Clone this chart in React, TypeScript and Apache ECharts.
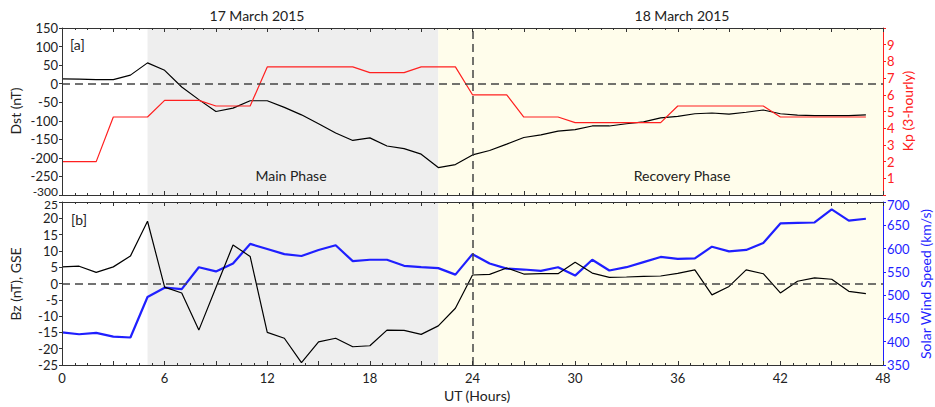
import React, { useEffect, useRef } from "react";
import * as echarts from "echarts";

const hours = [0,1,2,3,4,5,6,7,8,9,10,11,12,13,14,15,16,17,18,19,20,21,22,23,24,25,26,27,28,29,30,31,32,33,34,35,36,37,38,39,40,41,42,43,44,45,46,47];
const dst = [13,12,11,11,23,56,36,-9,-43,-75,-66,-46,-46,-64,-84,-108,-133,-153,-146,-168,-175,-190,-226,-218,-192,-180,-163,-145,-138,-128,-124,-114,-114,-108,-103,-92,-88,-81,-79,-82,-77,-71,-81,-85,-86,-86,-86,-84];
const kp = [2,2,2,4.67,4.67,4.67,5.67,5.67,5.67,5.33,5.33,5.33,7.67,7.67,7.67,7.67,7.67,7.67,7.33,7.33,7.33,7.67,7.67,7.67,6,6,6,4.67,4.67,4.67,4.33,4.33,4.33,4.33,4.33,4.33,5.33,5.33,5.33,5.33,5.33,5.33,4.67,4.67,4.67,4.67,4.67,4.67];
const bz = [5.1,5.3,3.4,5.1,8.4,19.1,-1.1,-2.9,-14.3,-1.2,11.8,8.3,-15,-16.8,-24.3,-17.9,-16.8,-19.4,-19.1,-14.3,-14.4,-15.6,-13,-7.6,2.6,2.8,4.75,2.9,3.0,3.0,6.5,3.2,1.9,2.0,2.2,2.3,3.1,4.2,-3.5,-0.9,4.2,3.0,-2.9,0.7,1.7,1.3,-2.4,-3.1];
const speed = [420,416,419,411,409,496,516,513,560,551,568,610,599,588,584,597,607,573,576,576,563,560,558,544,588,568,557,555,552,560,542,576,553,560,571,582,578,579,604,594,597,612,654,655,656,684,660,664];

const mainPhase = [5, 22];
const recoveryPhase = [22, 48];
const onsetHour = 24;
const dateLabels = ["17 March 2015", "18 March 2015"];
const dstMin = -300;
const bzMax = 25;
const speedMax = 700;

const FONT = 'Lato, "Open Sans", sans-serif';
const RED = "#ff2020";
const BLUE = "#1f1fff";
const TXT = "#222";

function xAxisDef(gridIndex: number, position: string, labels: boolean) {
  return {
    type: "value",
    gridIndex,
    position,
    min: 0,
    max: 48,
    interval: 3,
    z: 10,
    axisLine: { show: true, onZero: false, lineStyle: { color: "#333", width: 1 } },
    axisTick: { show: true, inside: true, length: 4, lineStyle: { color: "#333" } },
    minorTick: { show: true, splitNumber: 4, length: 2, lineStyle: { color: "#333" } },
    splitLine: { show: false },
    axisLabel: {
      show: labels,
      fontFamily: FONT,
      fontSize: 13,
      color: TXT,
      margin: 6,
      showMinLabel: true,
      showMaxLabel: true,
      formatter: (v: number) => (v % 6 === 0 ? String(v) : ""),
    },
  };
}

function yAxisDef(gridIndex: number, position: string, min: number, max: number, interval: number, color: string, hidden: number[]) {
  const c = color === "#333" ? TXT : color;
  return {
    type: "value",
    gridIndex,
    position,
    min,
    max,
    interval,
    z: 10,
    axisLine: { show: true, onZero: false, lineStyle: { color, width: 1 } },
    axisTick: { show: true, inside: false, length: 3, lineStyle: { color } },
    splitLine: { show: false },
    axisLabel: {
      fontFamily: FONT,
      fontSize: 13,
      color: c,
      margin: 4,
      showMinLabel: true,
      showMaxLabel: true,
      hideOverlap: false,
      formatter: (v: number) => (hidden.indexOf(v) >= 0 ? "" : String(v)),
    },
  };
}

function shading() {
  return {
    silent: true,
    data: [
      [{ xAxis: mainPhase[0], itemStyle: { color: "#eeeeee" } }, { xAxis: mainPhase[1] }],
      [{ xAxis: recoveryPhase[0], itemStyle: { color: "#fffdeb" } }, { xAxis: recoveryPhase[1] }],
    ],
  };
}

function refLines() {
  return {
    silent: true,
    symbol: ["none", "none"],
    label: { show: false },
    lineStyle: { color: "#444", type: [8, 5], width: 1.5 },
    data: [{ yAxis: 0 }, { xAxis: onsetHour }],
  };
}

function txt(text: string, x: number, y: number, opts: any = {}) {
  return {
    type: "text",
    x,
    y,
    rotation: opts.rotate ? Math.PI / 2 : 0,
    z: 20,
    style: {
      text,
      fill: opts.color || TXT,
      font: `${opts.size || 14}px ${FONT}`,
      textAlign: opts.align || "center",
      textVerticalAlign: "middle",
    },
  };
}

export default function App() {
  const ref = useRef<HTMLDivElement>(null);
  useEffect(() => {
    if (!ref.current) return;
    const chart = echarts.init(ref.current, null, { renderer: "svg" });
    const pair = (arr: number[]) => hours.map((h, i) => [h, arr[i]]);
    chart.setOption({
      animation: false,
      backgroundColor: "#ffffff",
      textStyle: { fontFamily: FONT },
      grid: [
        { left: 62, top: 28, width: 821, height: 167, containLabel: false, outerBoundsMode: "none" },
        { left: 62, top: 202, width: 821, height: 163, containLabel: false, outerBoundsMode: "none" },
      ],
      xAxis: [
        xAxisDef(0, "bottom", false),
        xAxisDef(0, "top", false),
        xAxisDef(1, "bottom", true),
        xAxisDef(1, "top", false),
      ],
      yAxis: [
        yAxisDef(0, "left", dstMin, 150, 50, "#333", [dstMin]),
        yAxisDef(0, "right", 0, 10, 1, RED, [0, 10]),
        yAxisDef(1, "left", -25, bzMax, 5, "#333", [bzMax]),
        yAxisDef(1, "right", 350, speedMax, 50, BLUE, [speedMax]),
      ],
      series: [
        {
          type: "line",
          name: "Dst",
          xAxisIndex: 0,
          yAxisIndex: 0,
          data: pair(dst),
          showSymbol: false,
          symbol: "none",
          lineStyle: { color: "#000", width: 1.2 },
          markArea: shading(),
          markLine: refLines(),
          z: 3,
        },
        {
          type: "line",
          name: "Kp",
          xAxisIndex: 0,
          yAxisIndex: 1,
          data: pair(kp),
          showSymbol: false,
          symbol: "none",
          lineStyle: { color: RED, width: 1.2 },
          z: 4,
        },
        {
          type: "line",
          name: "Bz",
          xAxisIndex: 2,
          yAxisIndex: 2,
          data: pair(bz),
          showSymbol: false,
          symbol: "none",
          lineStyle: { color: "#000", width: 1.2 },
          markArea: shading(),
          markLine: refLines(),
          z: 4,
        },
        {
          type: "line",
          name: "Speed",
          xAxisIndex: 2,
          yAxisIndex: 3,
          data: pair(speed),
          showSymbol: false,
          symbol: "none",
          lineStyle: { color: BLUE, width: 2.2 },
          z: 3,
        },
      ],
      graphic: [
        txt(dateLabels[0], 257, 15),
        txt(dateLabels[1], 682, 15),
        txt("[a]", 70, 44, { align: "left" }),
        txt("[b]", 71, 219, { align: "left" }),
        txt("Main Phase", 291, 175),
        txt("Recovery Phase", 682, 175),
        txt(String(dstMin), 58, 191, { align: "right", size: 12 }),
        txt(String(bzMax), 58, 204.5, { align: "right", size: 12 }),
        txt(String(speedMax), 887, 205, { align: "left", color: BLUE, size: 13 }),
        txt("Dst (nT)", 15, 111, { rotate: true }),
        txt("Bz (nT), GSE", 15, 284, { rotate: true }),
        txt("Kp (3-hourly)", 907, 111, { rotate: true, color: RED }),
        txt("Solar Wind Speed (km/s)", 925, 284, { rotate: true, color: BLUE }),
        txt("UT (Hours)", 477, 395),
      ],
    });
    return () => chart.dispose();
  }, []);
  return <div ref={ref} style={{ position: "fixed", left: 0, top: 0, width: 935, height: 407 }} />;
}
